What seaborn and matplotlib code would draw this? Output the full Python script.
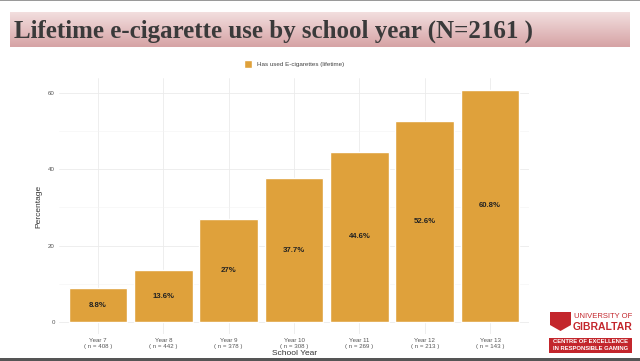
import numpy as np
import pandas as pd
import matplotlib.pyplot as plt
import seaborn as sns
from matplotlib.patches import Rectangle, Polygon
from matplotlib.colors import LinearSegmentedColormap

# Datos
years = ["Year 7", "Year 8", "Year 9", "Year 10", "Year 11", "Year 12", "Year 13"]
n_counts = [408, 442, 378, 308, 269, 213, 143]
percentages = [8.8, 13.6, 27, 37.7, 44.6, 52.6, 60.8]
bar_labels = ["8.8%", "13.6%", "27%", "37.7%", "44.6%", "52.6%", "60.8%"]
series_name = "Has used E-cigarettes (lifetime)"

tick_labels = [f"{y}\n( n = {n} )" for y, n in zip(years, n_counts)]
df = pd.DataFrame({"year": tick_labels, "pct": percentages})

sns.set_style("white")
plt.rcParams["font.family"] = ["Liberation Sans", "DejaVu Sans"]

fig = plt.figure(figsize=(6.4, 3.61), dpi=100)

# bordes de la diapositiva
fig.add_artist(Rectangle((0, 0.996), 1, 0.004, transform=fig.transFigure, color="#9a9a9a", lw=0))
fig.add_artist(Rectangle((0, 0), 1, 0.007, transform=fig.transFigure, color="#555555", lw=0))

# banner del título con degradado
ax_ban = fig.add_axes([0.016, 0.870, 0.968, 0.097])
grad = np.linspace(0, 1, 50).reshape(-1, 1)
cmap = LinearSegmentedColormap.from_list("ban", ["#f3e0e0", "#d6a3a5"])
ax_ban.imshow(grad, aspect="auto", cmap=cmap, extent=[0, 1, 0, 1], origin="upper")
ax_ban.set_axis_off()
ax_ban.text(0.006, 0.44, "Lifetime e-cigarette use by school year (N=2161 )",
            fontsize=18, fontweight="bold", family="Liberation Serif",
            color="#3a3a3a", va="center", ha="left", transform=ax_ban.transAxes)

# gráfico principal
ax = fig.add_axes([0.092, 0.076, 0.735, 0.707])
sns.barplot(data=df, x="year", y="pct", color="#DFA13B", width=0.9,
            saturation=1, ax=ax, label=series_name, zorder=2)
ax.set_ylim(-3.04, 63.84)
ax.set_xlim(-0.6, 6.6)
ax.set_yticks([0, 20, 40, 60])
ax.set_yticks([10, 30, 50], minor=True)
ax.grid(True, which="major", color="#ebebeb", lw=0.6, zorder=0)
ax.grid(True, which="minor", axis="y", color="#f3f3f3", lw=0.4, zorder=0)
for s in ax.spines.values():
    s.set_visible(False)
ax.tick_params(axis="both", length=0, labelsize=4.4, labelcolor="#555555", pad=3)
ax.set_xlabel("School Year", fontsize=6, color="#333333", labelpad=1)
ax.set_ylabel("Percentage", fontsize=6, color="#333333", labelpad=4)

for i, (v, lab) in enumerate(zip(percentages, bar_labels)):
    ax.text(i, v / 2, lab, ha="center", va="center", fontsize=5.6,
            fontweight="bold", color="#222222")

leg = ax.legend(loc="lower center", bbox_to_anchor=(0.5, 1.02), frameon=False,
                fontsize=4.5, handlelength=1.4, handleheight=1.4)
for t in leg.get_texts():
    t.set_color("#444444")

# logo (aproximado con texto y formas)
red = "#c3262c"
shield = [(550, 312), (571, 312), (571, 325), (560.5, 331), (550, 325)]
fig.add_artist(Polygon([(x / 640, 1 - y / 361) for x, y in shield],
                       closed=True, transform=fig.transFigure, color=red, lw=0))
fig.text(574 / 640, 1 - 317 / 361, "UNIVERSITY OF", fontsize=5.5, color=red,
         ha="left", va="center")
fig.text(573 / 640, 1 - 327 / 361, "GIBRALTAR", fontsize=7.5, fontweight="bold",
         color=red, ha="left", va="center")
fig.add_artist(Rectangle((549 / 640, 1 - 353 / 361), 83 / 640, 15 / 361,
                         transform=fig.transFigure, color=red, lw=0))
fig.text(590.5 / 640, 1 - 341.5 / 361, "CENTRE OF EXCELLENCE", fontsize=4.2,
         fontweight="bold", color="white", ha="center", va="center")
fig.text(590.5 / 640, 1 - 348.5 / 361, "IN RESPONSIBLE GAMING", fontsize=4.2,
         fontweight="bold", color="white", ha="center", va="center")

fig.savefig("out.png", dpi=100)
